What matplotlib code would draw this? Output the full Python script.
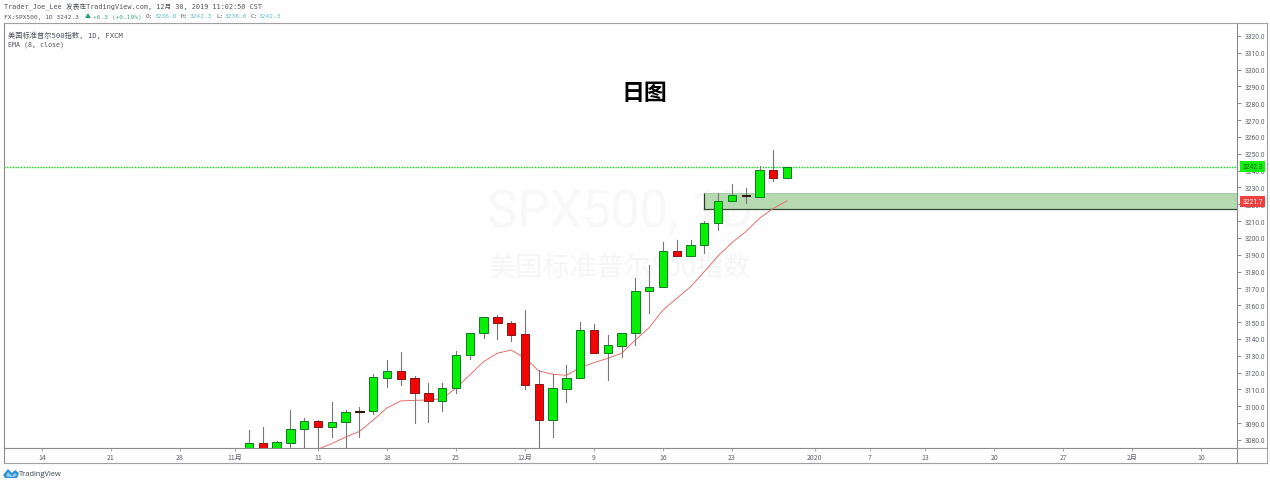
import matplotlib
matplotlib.use('Agg')
from matplotlib import pyplot as plt
from matplotlib.patches import Polygon, Rectangle

# candles, one per trading day starting at bar 15 (4 Nov)
first_bar = 15
opens = [3073, 3078, 3074, 3078.4, 3086.3, 3091, 3087.9, 3090.8, 3096.8, 3097.4,
         3117, 3121, 3116.6, 3107.7, 3103.3, 3110.7, 3130.5, 3143.3, 3153, 3149.3,
         3143, 3113, 3092, 3110.4, 3116.6, 3145.5, 3131.8, 3136, 3143.3, 3168.3,
         3170.6, 3192, 3189.1, 3195.6, 3208.7, 3222.1, 3225.3, 3224.5, 3240.4, 3235.8]
highs = [3086, 3087.9, 3079.5, 3097.8, 3092.8, 3091.9, 3102.7, 3097.5, 3099.4, 3119.2,
         3127.5, 3132.4, 3118, 3114, 3114, 3132.8, 3143.3, 3152.9, 3154.2, 3150.7,
         3157, 3121.5, 3119, 3124.5, 3150.2, 3148.9, 3142.3, 3143.6, 3176.4, 3183.9,
         3197.8, 3198.8, 3199, 3210.2, 3226.7, 3232, 3229.7, 3242.8, 3252.3, 3242.3]
lows = [3070, 3070, 3072, 3070, 3072, 3075, 3082, 3076, 3082, 3095.4,
        3111.3, 3112.6, 3090, 3090.8, 3097.2, 3108, 3128, 3140.4, 3140, 3139,
        3110, 3075, 3081.5, 3102.5, 3116.6, 3131.8, 3115.6, 3129, 3136.4, 3155.2,
        3170.6, 3189.3, 3189.1, 3190.9, 3204.7, 3222.1, 3221, 3224.5, 3234, 3235.8]
closes = [3078, 3074, 3078.5, 3086.3, 3091, 3087.9, 3090.8, 3096.6, 3097.2, 3117.2,
          3121, 3116.4, 3107.7, 3103.3, 3110.7, 3130.5, 3143.3, 3152.9, 3149.3, 3142.5,
          3112.8, 3092, 3110.7, 3116.6, 3145.5, 3131.8, 3136.2, 3143.3, 3168.5, 3170.6,
          3192, 3189.3, 3195.6, 3208.7, 3221.8, 3225.5, 3225, 3240.4, 3235.8, 3242.3]

# ema line starts at bar 20
ema_first = 20
ema = [3074.5, 3077.8, 3081.7, 3085, 3091.8, 3099, 3103.2, 3103.5, 3103.7, 3104.5,
       3110.8, 3118.6, 3126.5, 3131.5, 3133.4, 3128.7, 3121, 3119, 3118.4, 3123,
       3125.9, 3128.5, 3131.5, 3139.4, 3146.7, 3157.2, 3164.1, 3171, 3180, 3189.3,
       3197.2, 3203.7, 3211.7, 3217.6, 3222]

last_price = 3242.3
ema_price = 3221.7
zone_top = 3226.7
zone_bottom = 3217.2
zone_start = 48

price_ticks = list(range(3080, 3330, 10))
date_pos = [0, 5, 10, 14, 20, 25, 30, 35, 40, 45, 50, 56, 60, 64, 69, 74, 79, 84]
date_labels = ['14', '21', '28', '11月', '11', '18', '25', '12月', '9', '16', '23', '2020',
               '7', '13', '20', '27', '2月', '10']

W, H = 1270, 485
MONO = ['DejaVu Sans Mono', 'Noto Sans CJK SC']
CJK = ['Noto Sans CJK SC', 'DejaVu Sans']
GREY = '#5d606b'
DARK = '#50535e'
FRAME = '#a0a0a0'

fig = plt.figure(figsize=(W / 100, H / 100), dpi=100)

def fx(x):
	return x / W

def fy(y):
	return 1 - y / H

def label(x, y, s, color=DARK, size=4.4, family=MONO, **kw):
	fig.text(fx(x), fy(y), s, color=color, fontsize=size, family=family, va='center', **kw)

def fline(x0, y0, x1, y1, color=FRAME):
	fig.add_artist(plt.Line2D([fx(x0), fx(x1)], [fy(y0), fy(y1)], color=color, lw=0.8))

# main pane runs from pixel x 4..1237, y 24..449
ax = fig.add_axes([fx(4), fy(449), (1237 - 4) / W, (449 - 24) / H])
ax.set_xlim(-2.754, 86.6)
ax.set_ylim(3075.2, 3327.7)
for s in ['top', 'bottom', 'left', 'right']:
	ax.spines[s].set_color('#8a8a8a')
	ax.spines[s].set_linewidth(0.8)
ax.spines['top'].set_color(FRAME)

# watermark
ax.text(0.5, 1 - (213 - 24) / 425, 'SPX500, 1D', transform=ax.transAxes, color='#f8f8f8',
	fontsize=37, family='Roboto', ha='center', va='center', zorder=0)
ax.text(0.5, 1 - (268 - 24) / 425, '美国标准普尔500指数', transform=ax.transAxes, color='#f5f5f5',
	fontsize=19.5, family=CJK, ha='center', va='center', zorder=0)

# supply/demand zone
ax.add_patch(Rectangle((zone_start, zone_bottom), 90, zone_top - zone_bottom, facecolor='#b6d9b2',
	edgecolor='none', zorder=1))
ax.plot([zone_start, zone_start], [zone_bottom, zone_top], color='#2f3a2f', lw=0.9, zorder=1.5)
ax.plot([zone_start, 90], [zone_bottom, zone_bottom], color='#2f4a2f', lw=0.9, zorder=1.5)
ax.plot([zone_start, 90], [zone_top, zone_top], color='#a4cba0', lw=0.5, zorder=1.5)

# last price line
ax.plot([-3, 90], [last_price, last_price], color='#00e000', lw=1.0, ls=(0, (1, 1)), zorder=2)

ax.plot(range(ema_first, ema_first + len(ema)), ema, color='#e2706e', lw=0.7, zorder=2.5)

for n in range(len(opens)):
	i = first_bar + n
	o, h, l, c = opens[n], highs[n], lows[n], closes[n]
	ax.plot([i, i], [l, h], color='#777777', lw=0.8, zorder=3)
	if abs(c - o) < 1:
		ax.add_patch(Rectangle((i - 0.3, min(o, c)), 0.6, abs(c - o), facecolor='#2b1a10',
			edgecolor='#2b1a10', lw=0.8, zorder=4))
	elif c > o:
		ax.add_patch(Rectangle((i - 0.3, o), 0.6, c - o, facecolor='#06f006', edgecolor='#127a22', lw=0.7, zorder=4))
	else:
		ax.add_patch(Rectangle((i - 0.3, c), 0.6, o - c, facecolor='#f00505', edgecolor='#8a1515', lw=0.7, zorder=4))

ax.text(0.5195, 1 - (93 - 24) / 425, '日图', transform=ax.transAxes, color='black', fontsize=16.5,
	fontweight='bold', family=CJK, ha='center', va='center', zorder=6)

# axes ticks
ax.yaxis.tick_right()
ax.set_yticks(price_ticks)
ax.set_yticklabels(['%.1f' % p for p in price_ticks], fontsize=4.9, color=GREY, family='Roboto')
ax.tick_params(axis='y', length=3, width=0.6, color='#777777', pad=2.5)
ax.set_xticks(date_pos)
ax.set_xticklabels(date_labels, fontsize=5, color=GREY, family=CJK)
ax.tick_params(axis='x', length=2.5, width=0.6, color='#999999', pad=1)

# price tags
for price, col, txt in [(last_price, '#13ee13', '#1c6b1c'), (ema_price, '#ef4040', 'white')]:
	ax.annotate('%.1f' % price, xy=(1, price), xycoords=('axes fraction', 'data'), xytext=(15.5, 0),
		textcoords='offset pixels', ha='center', va='center', fontsize=4.9, color=txt, annotation_clip=False,
		family='Roboto', bbox=dict(boxstyle='square,pad=0.3', fc=col, ec='none'), zorder=7)

# frame around the date strip and the price axis
fline(3.5, 449, 3.5, 464, '#8a8a8a')
fline(3.5, 464, 1267, 464)
fline(1237, 449, 1237, 464, '#8a8a8a')
fline(1237, 449, 1267, 449)
fline(1237, 24, 1267, 24)
fline(1267, 24, 1267, 464)

# header lines
label(4, 6.5, 'Trader_Joe_Lee 发表在TradingView.com, 12月 30, 2019 11:02:50 CST', size=4.9)
label(4, 17, 'FX:SPX500, 1D 3242.3')
fig.add_artist(Polygon([(fx(85), fy(19)), (fx(91), fy(19)), (fx(88), fy(14))], closed=True, facecolor='#2e9c7e', edgecolor='none'))
label(93, 17, '+6.3 (+0.19%)', color='#3f9f86')
teal = '#55bfc4'
for x_name, name, x_val, val in [(146, 'O:', 155, '3236.0'), (181, 'H:', 190, '3242.3'),
		(216, 'L:', 225, '3236.0'), (251, 'C:', 259, '3242.3')]:
	label(x_name, 17, name)
	label(x_val, 17, val, color=teal)
label(8, 35, '美国标准普尔500指数, 1D, FXCM', size=5.2)
label(8, 45, 'EMA (8, close)', size=4.8)

# tradingview logo
fig.add_artist(Polygon([(fx(x), fy(y)) for x, y in [(3, 476), (8, 470), (12, 474), (15, 471), (19, 474), (17, 479), (5, 479)]],
	closed=True, facecolor='#2f8fd0', edgecolor='none'))
fig.add_artist(Polygon([(fx(x), fy(y)) for x, y in [(6, 477), (8, 473), (12, 477), (15, 474), (17, 476), (14, 478), (8, 478)]],
	closed=True, facecolor='#8fcdf0', edgecolor='none'))
fig.text(fx(19), fy(474.5), 'TradingView', color='#3a4550', fontsize=5.4, family='Open Sans', va='center')

fig.savefig('out.png', dpi=100)
